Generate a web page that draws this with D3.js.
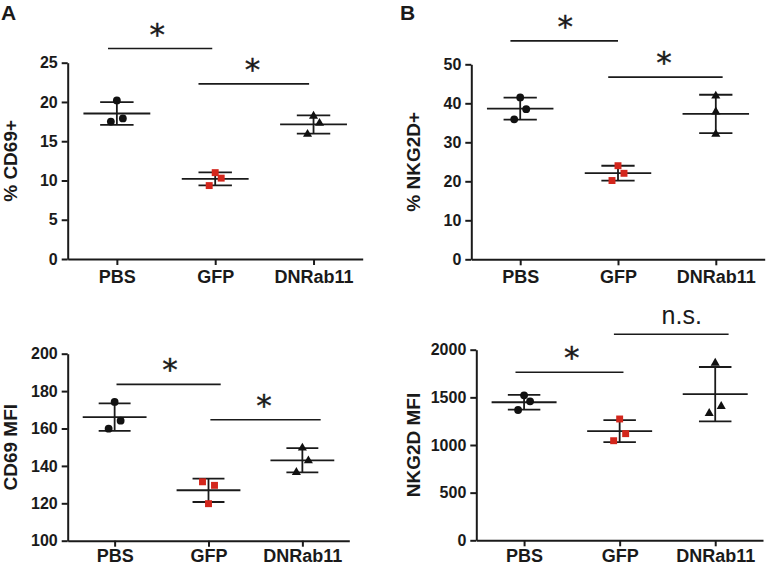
<!DOCTYPE html>
<html><head><meta charset="utf-8">
<script src="https://cdn.jsdelivr.net/npm/d3@7"></script>
<style>body{margin:0;background:#fff}svg{display:block}</style>
</head><body><svg id="c" width="766" height="566"></svg>
<script>
// ---------------- data ----------------
const categories = ["PBS", "GFP", "DNRab11"];

const cd69Pct   = [[20.2, 17.9, 17.5], [11.0, 10.3, 9.35], [18.2, 17.3, 15.9]];
const nkg2dPct  = [[41.5, 38.5, 35.9], [24.0, 22.05, 20.2], [41.9, 37.8, 32.1]];
const cd69Mfi   = [[174.2, 164.2, 159.9], [131.5, 129.6, 119.8], [149.6, 142.8, 136.6]];
const nkg2dMfi  = [[1521, 1458, 1367], [1273, 1119, 1045], [1860, 1406, 1333]];

const cd69PctTicks  = [0, 5, 10, 15, 20, 25];
const nkg2dPctTicks = [0, 10, 20, 30, 40, 50];
const cd69MfiTicks  = [100, 120, 140, 160, 180, 200];
const nkg2dMfiTicks = [0, 500, 1000, 1500, 2000];

// significance brackets: from/to/label position in category-index units, y in data units
const cd69PctSig  = [{from: -0.09, to: 0.97, at: 0.41, y: 26.8, label: "*"},
                     {from: 0.83, to: 1.955, at: 1.38, y: 22.3, label: "*"}];
const nkg2dPctSig = [{from: -0.10, to: 1.0, at: 0.46, y: 56.0, label: "*"},
                     {from: 0.90, to: 2.07, at: 1.47, y: 46.7, label: "*"}];
const cd69MfiSig  = [{from: 0.02, to: 1.13, at: 0.59, y: 183.6, label: "*"},
                     {from: 1.02, to: 2.195, at: 1.59, y: 164.7, label: "*"}];
const nkg2dMfiSig = [{from: -0.09, to: 1.04, at: 0.50, y: 1763, label: "*"},
                     {from: 0.94, to: 2.14, at: 1.65, y: 2162, label: "n.s."}];

// ---------------- layout / style ----------------
const panels = [
  {letter: "A", title: "% CD69+", values: cd69Pct, ticks: cd69PctTicks, sig: cd69PctSig,
   ax: 67.7, xEnd: 362.7, yTop: 62.7, yBot: 259, titleX: 10, letterX: 1, letterY: 20, pad: 5,
   jitter: [[0, 1, -1], [0, 1, -1], [0, 1, -1]]},
  {letter: "B", title: "% NKG2D+", values: nkg2dPct, ticks: nkg2dPctTicks, sig: nkg2dPctSig,
   ax: 471.3, xEnd: 764.7, yTop: 64.3, yBot: 259.3, titleX: 413, letterX: 400, letterY: 20, pad: 5,
   jitter: [[0, 1, -1], [0, 1, -1], [0, 0, 0]]},
  {letter: "", title: "CD69 MFI", values: cd69Mfi, ticks: cd69MfiTicks, sig: cd69MfiSig,
   ax: 67.7, xEnd: 349.3, yTop: 353.7, yBot: 540.7, titleX: 10, pad: 3,
   jitter: [[0, 1, -1], [-1, 1, 0], [0, 1, -1]]},
  {letter: "", title: "NKG2D MFI", values: nkg2dMfi, ticks: nkg2dMfiTicks, sig: nkg2dMfiSig,
   ax: 476.3, xEnd: 763, yTop: 349.7, yBot: 540.3, titleX: 413, pad: 3,
   jitter: [[0, 1, -1], [0, 1, -1], [0, 1, -1]]}
];

const ink = "#1a1a1a";
const groupColor = ["#111111", "#d3261c", "#111111"];
const groupSymbol = [d3.symbolCircle, d3.symbolSquare, d3.symbolTriangle];
const groupSize = [48, 48, 36];
const FONT = "'Liberation Sans', Arial, Helvetica, sans-serif";

const svg = d3.select("#c");

panels.forEach(p => {
  const g = svg.append("g");
  const x = d3.scaleLinear().domain([-0.5, categories.length - 0.5]).range([p.ax, p.xEnd]);
  const y = d3.scaleLinear().domain([p.ticks[0], p.ticks[p.ticks.length - 1]]).range([p.yBot, p.yTop]);
  const step = x(1) - x(0);

  // axes
  const yAxis = g.append("g").attr("transform", `translate(${p.ax},0)`)
    .call(d3.axisLeft(y).tickValues(p.ticks).tickSize(6).tickSizeOuter(0).tickPadding(4).tickFormat(d3.format("d")));
  const xAxis = g.append("g").attr("transform", `translate(0,${p.yBot})`)
    .call(d3.axisBottom(x).tickValues(categories.map((c, i) => i)).tickSize(6).tickSizeOuter(0).tickPadding(p.pad)
      .tickFormat(i => categories[i]));
  [yAxis, xAxis].forEach(a => {
    a.select(".domain").attr("stroke", ink).attr("stroke-width", 2);
    a.selectAll(".tick line").attr("stroke", ink).attr("stroke-width", 2);
    a.selectAll(".tick text").attr("fill", ink).attr("font-family", FONT).attr("font-weight", "bold");
  });
  yAxis.selectAll(".tick text").attr("font-size", 16);
  xAxis.selectAll(".tick text").attr("font-size", 18);

  // y title
  g.append("text")
    .attr("transform", `translate(${p.titleX},${(p.yTop + p.yBot) / 2}) rotate(-90)`)
    .attr("text-anchor", "middle").attr("dy", "0.36em")
    .attr("font-family", FONT).attr("font-weight", "bold").attr("font-size", 19).attr("fill", ink)
    .text(p.title);

  // panel letter
  if (p.letter) {
    g.append("text").attr("x", p.letterX).attr("y", p.letterY)
      .attr("font-family", FONT).attr("font-weight", "bold").attr("font-size", 21).attr("fill", ink)
      .text(p.letter);
  }

  // groups
  p.values.forEach((vals, gi) => {
    const cx = x(gi);
    const m = d3.mean(vals), s = d3.deviation(vals);
    const eg = g.append("g").attr("stroke", ink).attr("stroke-width", 1.8);
    eg.append("line").attr("x1", cx).attr("x2", cx).attr("y1", y(m - s)).attr("y2", y(m + s));
    eg.append("line").attr("x1", cx - step * 0.17).attr("x2", cx + step * 0.17).attr("y1", y(m + s)).attr("y2", y(m + s));
    eg.append("line").attr("x1", cx - step * 0.17).attr("x2", cx + step * 0.17).attr("y1", y(m - s)).attr("y2", y(m - s));
    eg.append("line").attr("x1", cx - step * 0.34).attr("x2", cx + step * 0.34).attr("y1", y(m)).attr("y2", y(m));

    const sym = d3.symbol().type(groupSymbol[gi]).size(groupSize[gi]);
    g.selectAll(null).data(vals).join("path")
      .attr("d", sym)
      .attr("transform", (v, k) => `translate(${cx + p.jitter[gi][k] * 6},${y(v)})`)
      .attr("fill", groupColor[gi]);
  });

  // significance brackets
  p.sig.forEach(s => {
    g.append("line").attr("x1", x(s.from)).attr("x2", x(s.to)).attr("y1", y(s.y)).attr("y2", y(s.y))
      .attr("stroke", ink).attr("stroke-width", 1.6);
    const isStar = s.label === "*";
    g.append("text").attr("x", x(s.at)).attr("y", y(s.y) - (isStar ? 4 : 10))
      .attr("text-anchor", "middle")
      .attr("font-family", isStar ? "'DejaVu Sans', sans-serif" : FONT)
      .attr("font-size", isStar ? 31 : 25).attr("fill", ink)
      .attr("stroke", isStar ? ink : "none").attr("stroke-width", isStar ? 0.4 : 0)
      .text(s.label);
  });
});
</script></body></html>
